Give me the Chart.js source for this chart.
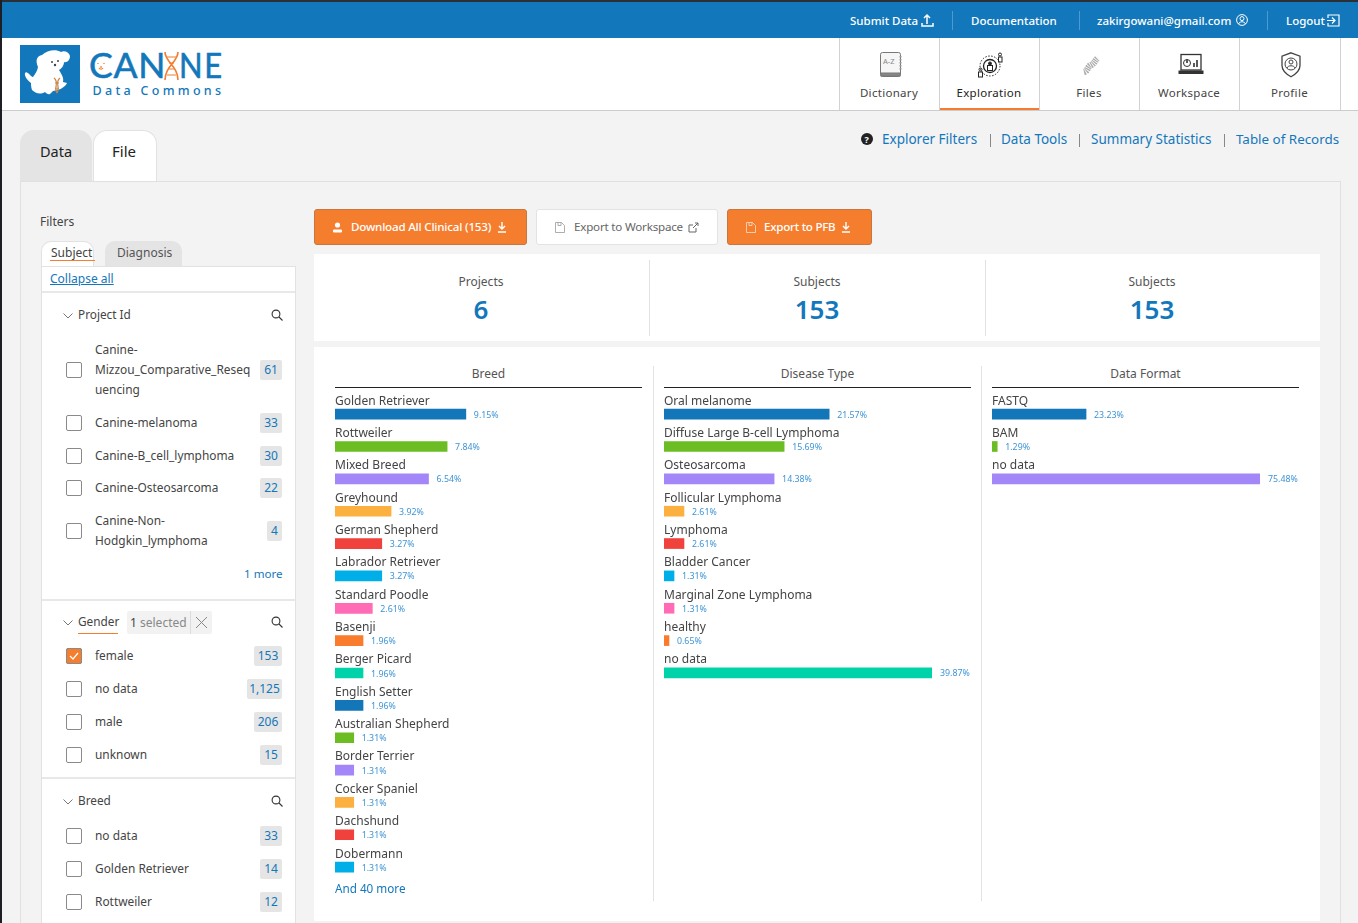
<!DOCTYPE html>
<html>
<head>
<meta charset="utf-8">
<script src="https://cdn.jsdelivr.net/npm/chart.js@4"></script>
<style>
html,body{margin:0;padding:0;width:1358px;height:923px;overflow:hidden;background:#f3f3f3;font-family:"Noto Sans",sans-serif;color:#444}
.a{position:absolute;white-space:nowrap}
.box{position:absolute;box-sizing:border-box}
.cb{position:absolute;box-sizing:border-box;left:66px;width:16px;height:16px;border:1px solid #8a8a8a;border-radius:2px;background:#fff}
.badge{position:absolute;box-sizing:border-box;height:20px;line-height:20px;background:#e5e5e5;border-radius:2px;color:#1377bb;font-size:12px;text-align:center}
svg{position:absolute;overflow:visible}
</style>
</head>
<body>
<div id="page"></div>
<script>
// values
const breedNames = ["Golden Retriever", "Rottweiler", "Mixed Breed", "Greyhound", "German Shepherd", "Labrador Retriever", "Standard Poodle", "Basenji", "Berger Picard", "English Setter", "Australian Shepherd", "Border Terrier", "Cocker Spaniel", "Dachshund", "Dobermann"];
const breedValues = [9.15, 7.84, 6.54, 3.92, 3.27, 3.27, 2.61, 1.96, 1.96, 1.96, 1.31, 1.31, 1.31, 1.31, 1.31];
const diseaseNames = ["Oral melanome", "Diffuse Large B-cell Lymphoma", "Osteosarcoma", "Follicular Lymphoma", "Lymphoma", "Bladder Cancer", "Marginal Zone Lymphoma", "healthy", "no data"];
const diseaseValues = [21.57, 15.69, 14.38, 2.61, 2.61, 1.31, 1.31, 0.65, 39.87];
const formatNames = ["FASTQ", "BAM", "no data"];
const formatValues = [23.23, 1.29, 75.48];
const barColors = ["#1276b9", "#6cbd23", "#a386f7", "#fbb03f", "#f0413c", "#00aee8", "#ff6bb5", "#f97c2c", "#00d3aa"];

const page = document.getElementById("page");
const add = (html) => page.insertAdjacentHTML("beforeend", html);
const text = (x, y, str, size, color, extra) => add(`<div class="a" style="left:${x}px;top:${y - 12}px;line-height:24px;font-size:${size}px;color:${color};${extra || ""}">${str}</div>`);
const rect = (x, y, w, h, style) => add(`<div class="box" style="left:${x}px;top:${y}px;width:${w}px;height:${h}px;${style}"></div>`);

// window edge + top bar
rect(0, 0, 1358, 38, "background:#1377bb");
rect(0, 0, 1358, 2, "background:#2b2f36");
rect(0, 38, 1358, 73, "background:#fff;border-bottom:1px solid #ccc");
rect(0, 0, 2, 923, "background:#1d1f24");
text(850, 21, "Submit Data", 11.5, "#fff", "font-weight:500");
text(971, 21, "Documentation", 11.5, "#fff", "font-weight:500");
text(1097, 21, "zakirgowani@gmail.com", 11.5, "#fff", "font-weight:500");
text(1286, 21, "Logout", 11.5, "#fff", "font-weight:500");
[952, 1079, 1267].forEach((x) => rect(x, 11, 1, 19, "background:#4d9ad0"));
add(`<svg style="left:921px;top:14px" width="13" height="13" fill="none" stroke="#fff" stroke-width="1.5"><path d="M6 10V1M3 4l3-3 3 3M1 9v3h11V9"/></svg>
<svg style="left:1236px;top:14px" width="12" height="12" fill="none" stroke="#fff"><circle cx="6" cy="6" r="5.4"/><circle cx="6" cy="4.6" r="2"/><path d="M2.5 10c1-3 6-3 7 0"/></svg>
<svg style="left:1327px;top:14px" width="13" height="13" fill="none" stroke="#fff" stroke-width="1.2"><path d="M1 4V1h11v11H1V9M0 6.5h8M5 3.5l3 3-3 3" /></svg>`);

// logo
rect(20, 45, 60, 58, "background:#1377bb");
add(`<svg style="left:20px;top:45px" width="60" height="58"><path fill="#fff" d="M18 22C15 15 17 11 22 10C27 5 36 4 41 7C44 5 49 7 50 11C50 15 47 18 44 17C44 21 41 24 39 25C42 30 44 33 43 37L47 38C46 41 41 44 38 45L33 46L30 49C27 50 25 47 25 47C20 50 15 48 12 45C11 42 11 40 11 38C8 36 4 31 5 28C7 25 10 31 13 32C15 29 17 27 18 22Z"/><circle cx="32" cy="17" r="1" fill="#444"/><circle cx="38" cy="16" r="1" fill="#444"/><circle cx="35" cy="20" r="1.2" fill="#444"/><path fill="none" stroke="#c8854a" stroke-width="1.2" d="M34 33c6 5-1 9 3 15M40 33c-6 5 1 9-3 15M35 38h4M35 44h4"/></svg>`);
const logoFont = "font-family:Lato;-webkit-text-stroke:.6px #1377bb;";
text(89, 65, "CAN", 35.5, "#1377bb", logoFont + "letter-spacing:.8px");
text(179, 65, "NE", 35.5, "#1377bb", logoFont + "letter-spacing:2px;transform:scaleX(.87);transform-origin:left");
add(`<svg style="left:164px;top:51px" width="15" height="30" fill="none" stroke="#f47d2e" stroke-width="1.6"><path d="M1 1c0 10 13 14 13 28M14 1C14 11 1 15 1 29"/><path stroke-width="1.1" d="M3 6h9M3 24h9M5 12h5M5 18h5"/></svg>
<svg style="left:96px;top:62px" width="10" height="9" fill="none" stroke="#f47d2e" stroke-width="1.300"><path d="M2 1v1M8 1v1M3 6c1 1.500 3 1.500 4 0M5 4v2"/></svg>`);
text(92.5, 91, "Data Commons", 12.5, "#1377bb", "font-weight:500;letter-spacing:3.3px");

// nav items
const navItems = ["Dictionary", "Exploration", "Files", "Workspace", "Profile"];
const navEdges = [839, 939, 1039, 1139, 1239, 1340];
navEdges.forEach((x) => rect(x, 38, 1, 72, "background:#d2d2d2"));
navItems.forEach((n, i) => {
  add(`<div class="a" style="left:${navEdges[i]}px;width:${navEdges[i + 1] - navEdges[i]}px;top:81px;line-height:24px;text-align:center;font-size:11.5px;color:${i == 1 ? "#222" : "#444"};letter-spacing:.3px">${n}</div>`);
});
rect(940, 108, 99, 2, "background:#f57c2e");
add(`<svg style="left:880px;top:52px" width="22" height="26" fill="none" stroke="#777"><rect x=".5" y=".5" width="20" height="24" rx="2" fill="#f6f6f6"/><rect x="1" y="21" width="19" height="3" fill="#888"/><path d="M20.500 4v15" stroke-dasharray="1.500 1.500" stroke-width="2" stroke="#999"/><text x="3" y="12" font-size="7.5" fill="#888" stroke="none" font-family="Noto Sans">A-Z</text></svg>
<svg style="left:978px;top:52px" width="26" height="26" fill="none" stroke="#222"><circle cx="12" cy="14" r="10" stroke-dasharray="1.500 1.500"/><circle cx="12" cy="14" r="6.500" stroke-width="1.300"/><circle cx="12" cy="11.500" r="1.500" fill="#222"/><rect x="9.500" y="13.500" width="5" height="5"/><rect x="20.500" y="5" width="3.500" height="5"/><circle cx="22" cy="2.500" r="1.500"/><rect x=".5" y="20" width="4" height="5"/><circle cx="2.500" cy="17.500" r="1.500"/></svg>
<svg style="left:1081px;top:54px" width="20" height="22" fill="none" stroke="#aaa" stroke-width="6.500" stroke-dasharray="1.200 .8"><path d="M3 18C7 17 6 13 10 11S14 6 17 4" /></svg>
<svg style="left:1179px;top:54px" width="24" height="22" fill="none" stroke="#333"><rect x="2" y=".5" width="20" height="15.500" stroke-width="1.300"/><rect x="0" y="17" width="24" height="2.500" fill="#333"/><circle cx="8" cy="9" r="3.500"/><path d="M8 9V5.500M15 13V9M18 13V6" stroke-width="1.600"/></svg>
<svg style="left:1281px;top:52px" width="20" height="26" fill="none" stroke="#444"><path d="M10 .8l9 3.400v9.300c0 5-4 8.500-9 11.200-5-2.700-9-6.200-9-11.200V4.200z" stroke-width="1.300"/><circle cx="10" cy="12" r="6"/><circle cx="10" cy="10" r="2"/><path d="M6 16c1-3 7-3 8 0"/></svg>`);

// tabs + right links
rect(20, 130, 72, 51, "background:#e4e4e4;border-radius:14px 14px 0 0");
rect(93, 130, 64, 51, "background:#fff;border:1px solid #e2e2e2;border-bottom:none;border-radius:14px 14px 0 0");
text(40, 151, "Data", 14.5, "#222");
text(112, 151, "File", 15, "#222");
rect(20, 181, 1321, 760, "border:1px solid #e0e0e0");
add(`<svg style="left:861px;top:133px" width="12" height="12"><circle cx="6" cy="6" r="6" fill="#222"/><text x="3.500" y="9.500" font-size="9" fill="#fff" font-weight="700" font-family="Noto Sans">?</text></svg>`);
text(882, 139, "Explorer Filters", 13.5, "#1377bb");
text(1001, 139, "Data Tools", 13.5, "#1377bb");
text(1091, 139, "Summary Statistics", 13.5, "#1377bb");
text(1236, 139, "Table of Records", 13.4, "#1377bb");
[990, 1079, 1224].forEach((x) => rect(x, 134, 1, 13, "background:#888"));

// buttons
rect(314, 209, 213, 36, "background:#f57d2e;border:1px solid #c8763e;border-radius:3px");
rect(536, 209, 182, 36, "background:#fff;border:1px solid #e3e3e3;border-radius:3px");
rect(727, 209, 145, 36, "background:#f57d2e;border:1px solid #c8763e;border-radius:3px");
text(351, 227, "Download All Clinical (153)", 11.6, "#fff", "font-weight:500;letter-spacing:-.2px");
text(574, 227, "Export to Workspace", 11.6, "#666", "letter-spacing:-.2px");
text(764, 227, "Export to PFB", 11.6, "#fff", "font-weight:500;letter-spacing:-.25px");
const dl = (x) => `<svg style="left:${x}px;top:222px" width="10" height="11" fill="none" stroke="#fff" stroke-width="1.400"><path d="M5 0v7M2 4l3 3 3-3M1 10h8"/></svg>`;
add(dl(497) + dl(841));
add(`<svg style="left:333px;top:222px" width="9" height="11" fill="#fff"><circle cx="4.500" cy="3" r="2.600"/><rect x="0" y="7.500" width="9" height="3" rx="1"/></svg>`);
const disk = (x, c) => `<svg style="left:${x}px;top:222px" width="10" height="11" fill="none" stroke="${c}" stroke-width=".8"><path d="M.5.500h6l3 3v7h-9zM3 .5v3h3v-3"/></svg>`;
add(disk(555, "#999") + disk(746, "#fde0c8"));
add(`<svg style="left:688px;top:222px" width="11" height="11" fill="none" stroke="#666"><path d="M8 6v4H1V3h4M5 6l5-5M7 1h3v3"/></svg>`);

// stats
rect(314, 254, 1006, 87, "background:#fff");
const statTitles = ["Projects", "Subjects", "Subjects"];
const statValues = ["6", "153", "153"];
const statCenters = [481, 817, 1152];
statTitles.forEach((t, i) => {
  add(`<div class="a" style="left:${statCenters[i] - 80}px;width:160px;top:270px;line-height:24px;text-align:center;font-size:12px;color:#555">${t}</div>`);
  add(`<div class="a" style="left:${statCenters[i] - 80}px;width:160px;top:291px;line-height:36px;text-align:center;font-size:26px;font-weight:600;color:#1377bb">${statValues[i]}</div>`);
});
[649, 985].forEach((x) => rect(x, 260, 1, 76, "background:#e2e2e2"));

// sidebar
text(40, 222, "Filters", 12, "#444");
rect(105, 241, 77, 26, "background:#e4e4e4;border-radius:10px 10px 0 0");
rect(41, 241, 53, 26, "background:#fff;border:1px solid #e2e2e2;border-bottom:none;border-radius:10px 10px 0 0");
text(51, 253, "Subject", 12, "#444");
text(117, 253, "Diagnosis", 12, "#555");
rect(50, 260, 45, 1, "background:#f57d2e");
rect(41, 266, 255, 670, "background:#fff;border:1px solid #e2e2e2;border-bottom:none");
text(50, 279, "Collapse all", 12, "#1377bb", "text-decoration:underline");
[291, 599, 777].forEach((y) => rect(42, y, 253, 1.5, "background:#e8e8e8"));

const chev = (y) => `<svg style="left:63px;top:${y - 2}px" width="10" height="6" fill="none" stroke="#777"><path d="M.5.500l4.500 4.500 4.500-4.500"/></svg>`;
const lens = (y) => `<svg style="left:271px;top:${y - 6}px" width="12" height="12" fill="none" stroke="#333" stroke-width="1.100"><circle cx="5" cy="5" r="3.900"/><path d="M8 8l3.500 3.500"/></svg>`;
const rowLabelX = 95;
const filterHeads = [["Project Id", 315], ["Gender", 622], ["Breed", 801]];
filterHeads.forEach(([n, y]) => { text(78, y - 1, n, 11.8, "#444"); add(chev(y) + lens(y)); });

const filterRows = [
  [["Canine-", "Mizzou_Comparative_Reseq", "uencing"], 370, "61"],
  [["Canine-melanoma"], 423, "33"],
  [["Canine-B_cell_lymphoma"], 456, "30"],
  [["Canine-Osteosarcoma"], 488, "22"],
  [["Canine-Non-", "Hodgkin_lymphoma"], 531, "4"],
  [["female"], 656, "153"],
  [["no data"], 689, "1,125"],
  [["male"], 722, "206"],
  [["unknown"], 755, "15"],
  [["no data"], 836, "33"],
  [["Golden Retriever"], 869, "14"],
  [["Rottweiler"], 902, "12"],
];
filterRows.forEach(([lines, y, count]) => {
  const top = y - (lines.length - 1) * 10;
  lines.forEach((l, i) => text(rowLabelX, top + i * 20 - 1, l, 11.9, "#444"));
  add(`<div class="cb" style="top:${y - 8}px"></div>`);
  const w = count.length == 5 ? 35 : count.length == 3 ? 28 : count.length == 2 ? 22 : 15;
  add(`<div class="badge" style="left:${282 - w}px;width:${w}px;top:${y - 10}px">${count}</div>`);
});
rect(66, 648, 16, 16, "background:#f57d2e;border:1px solid #8a8a8a;border-radius:2px");
add(`<svg style="left:69px;top:652px" width="10" height="8" fill="none" stroke="#fff" stroke-width="1.200"><path d="M1 4l3 3 5-6"/></svg>`);
text(244, 574, "1 more", 11.6, "#1377bb");
rect(78, 633, 40, 1, "background:#f57d2e");
rect(127, 611, 85, 23, "background:#f2f2f2;border-radius:2px");
rect(190, 611, 1, 23, "background:#dcdcdc");
text(130, 623, '<span style="color:#444">1</span> selected', 12, "#888");
add(`<svg style="left:196px;top:617px" width="11" height="11" fill="none" stroke="#888"><path d="M0 0l11 11M11 0L0 11"/></svg>`);

// chart panel
rect(314, 347, 1006, 574, "background:#fff");
[653, 981].forEach((x) => rect(x, 366, 1, 535, "background:#e2e2e2"));
const columns = [
  { title: "Breed", names: breedNames, values: breedValues, left: 335, axisMax: 18.74 },
  { title: "Disease Type", names: diseaseNames, values: diseaseValues, left: 664, axisMax: 35.0 },
  { title: "Data Format", names: formatNames, values: formatValues, left: 992, axisMax: 66.2 },
];
const rowPitch = 32.35;
const labelRoom = 8; // room above the first row for its label

// prints the percentage right of every bar
const valueLabels = {
  id: "valueLabels",
  afterDatasetsDraw(chart) {
    const { ctx, chartArea } = chart;
    const meta = chart.getDatasetMeta(0);
    ctx.save();
    ctx.font = "8.8px 'Noto Sans'";
    ctx.fillStyle = "#3d93d6";
    ctx.textBaseline = "middle";
    meta.data.forEach((bar, i) => {
      // the longest bar is cut off by the axis max, like in the original
      const x = Math.min(bar.x, chartArea.right) + 8;
      ctx.fillText(chart.data.datasets[0].data[i].toFixed(2) + "%", x, bar.y + 1);
    });
    ctx.restore();
  },
};

columns.forEach((col, n) => {
  add(`<div class="a" style="left:${col.left}px;width:307px;top:361.5px;line-height:24px;text-align:center;font-size:12px;color:#555">${col.title}</div>`);
  rect(col.left, 387, 307, 1, "background:#222");
  add(`<div class="box" style="left:${col.left}px;top:${398 - labelRoom}px;width:307px;height:${col.names.length * rowPitch + labelRoom}px"><canvas id="chart${n}"></canvas></div>`);
});
text(335, 888, "And 40 more", 11.7, "#1377bb");

columns.forEach((col, n) => {
  new Chart(document.getElementById("chart" + n).getContext("2d"), {
    type: "bar",
    data: {
      labels: col.names,
      datasets: [{
        data: col.values,
        backgroundColor: col.values.map((v, i) => barColors[i % barColors.length]),
        barThickness: 10,
      }],
    },
    plugins: [valueLabels],
    options: {
      indexAxis: "y",
      animation: false,
      maintainAspectRatio: false,
      layout: { padding: { right: 39, top: labelRoom } },
      plugins: { legend: { display: false }, tooltip: { enabled: false } },
      scales: {
        x: { display: false, min: 0, max: col.axisMax },
        y: {
          grid: { display: false, drawTicks: false },
          border: { display: false },
          // mirrored labels must not shrink the plot area
          afterFit(scale) {
            scale.paddingTop = 0;
            scale.paddingBottom = 0;
          },
          ticks: {
            mirror: true,
            padding: 0,
            labelOffset: -13,
            autoSkip: false,
            color: "#444",
            font: { family: "Noto Sans", size: 12 },
          },
        },
      },
    },
  });
});
</script>
</body>
</html>
